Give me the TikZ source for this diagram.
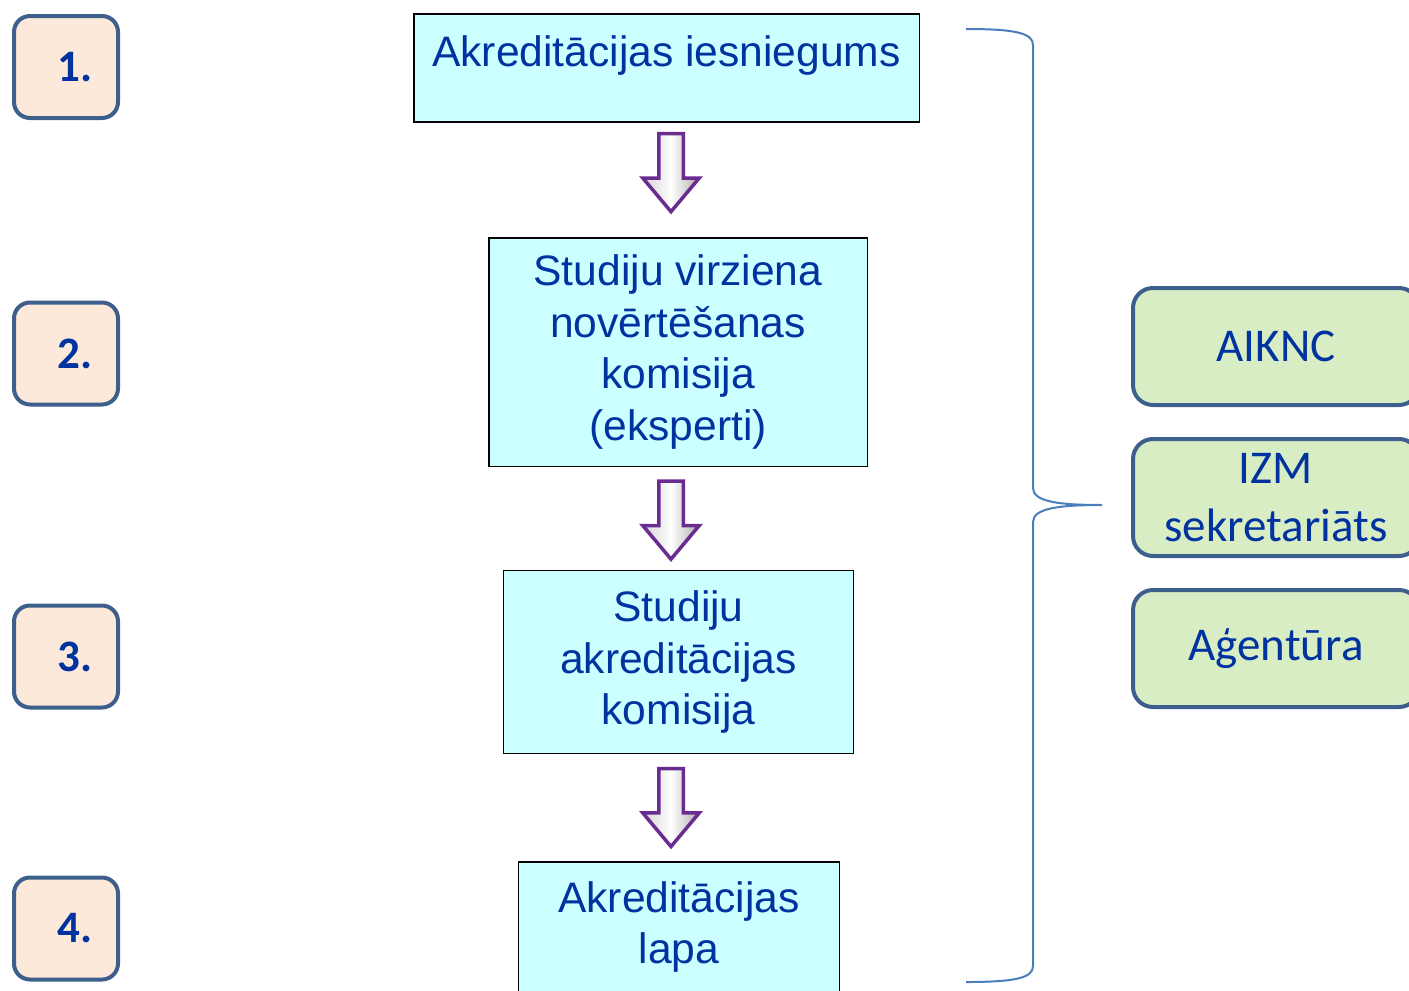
\documentclass[tikz,border=0pt]{standalone}
\usepackage{fontspec}
\setmainfont{Liberation Sans}
\newfontfamily\calibri{Carlito}
\usetikzlibrary{calc,positioning,shapes.arrows}
\definecolor{txtblue}{HTML}{0033A0}
\definecolor{frameblue}{HTML}{3C5F8C}
\definecolor{numfill}{HTML}{FDE9D9}
\definecolor{stepfill}{HTML}{CCFFFF}
\definecolor{orgfill}{HTML}{D9EDC4}
\definecolor{bracecol}{HTML}{4A7EBB}
\definecolor{arrowpurple}{HTML}{6A2C91}
\tikzset{
  numbox/.style={draw=frameblue, line width=2pt, fill=numfill, rounded corners=8pt,
    minimum width=52pt, minimum height=51pt, text=txtblue,
    font=\calibri\bfseries\fontsize{22.5}{26}\selectfont,
    execute at begin node=\hspace*{9pt}},
  stepbox/.style={draw=black, line width=0.75pt, fill=stepfill, text=txtblue,
    align=center, inner sep=0pt, font=\fontsize{21.3}{25.7}\selectfont},
  orgbox/.style={draw=frameblue, line width=2pt, fill=orgfill, rounded corners=10pt,
    minimum width=143pt, minimum height=58.5pt, text=txtblue, align=center,
    font=\calibri\fontsize{23.5}{29}\selectfont},
  downarrow/.style={single arrow, shape border rotate=270, draw=arrowpurple,
    line width=1.75pt, left color=gray!35, right color=gray!65, middle color=white,
    minimum height=39pt, inner sep=5.25pt, single arrow head extend=8pt,
    single arrow tip angle=80}
}
\begin{document}
\begin{tikzpicture}[x=0.5pt,y=-0.5pt]
  \useasboundingbox (0,0) rectangle (1409,991);
  \clip (0,0) rectangle (1409,991);
  % step numbers
  \foreach \n/\y in {1/67,2/353.5,3/656.5,4/928.5}
    \node[numbox] (n\n) at (66,\y) {\n.};
  % steps of the procedure
  \node[stepbox, minimum width=252.75pt, text height=26pt, text depth=28pt] (s1) at (666.5,68)
    {Akreditācijas iesniegums};
  \node[stepbox, minimum width=189.25pt, minimum height=114.25pt] (s2) at (678,352)
    {Studiju virziena\\novērtēšanas\\komisija\\(eksperti)};
  \node[stepbox, minimum width=175pt, minimum height=91.5pt] (s3) at (678.5,662)
    {Studiju\\akreditācijas\\komisija};
  \node[stepbox, minimum width=160.5pt, minimum height=65pt] (s4) at (679,927)
    {Akreditācijas\\lapa};
  \foreach \a/\b/\dx/\dy in {s1/s2/-1.25/-14.5, s2/s3/-7.25/-5.5, s3/s4/-7.75/-7.5}
    \node[downarrow] (a\a) at ($(\a.south)!0.5!(\b.north)+(\dx,\dy)$) {};
  % institutions
  \node[orgbox] (o1) at (1276,346.5) {AIKNC};
  \node[orgbox] (o2) at (1276,497.5) {IZM\\sekretariāts};
  \node[orgbox] (o3) at (1276,648.5) {Aģentūra};
  % brace
  \coordinate (bt) at (966,29);
  \coordinate (bb) at (966,982);
  \coordinate (tip) at ($(o2.west)+(-29,7.5)$);
  \draw[bracecol, line width=1pt] (bt) .. controls (1015,29) and (1033,33) .. (1033,45)
    -- (1033,488) .. controls (1033,502) and (1060,505) .. (tip)
    .. controls (1060,505) and (1033,508) .. (1033,522)
    -- (1033,966) .. controls (1033,978) and (1015,982) .. (bb);
\end{tikzpicture}
\end{document}
